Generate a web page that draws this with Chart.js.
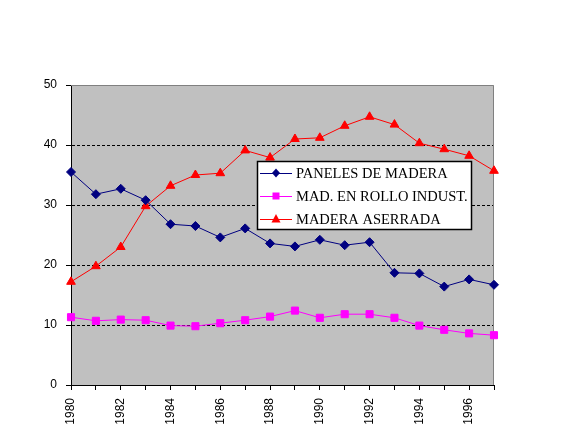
<!DOCTYPE html>
<html>
<head>
<meta charset="utf-8">
<script src="https://cdn.jsdelivr.net/npm/chart.js@4.4.0/dist/chart.umd.min.js"></script>
<style>
html,body{margin:0;padding:0;background:#fff;}
#wrap{width:568px;height:438px;position:relative;}
</style>
</head>
<body>
<div id="wrap"><canvas id="c" width="568" height="438"></canvas></div>
<script>
const years = ['1980','1981','1982','1983','1984','1985','1986','1987','1988','1989','1990','1991','1992','1993','1994','1995','1996','1997'];
const paneles = [35.5,31.8,32.7,30.8,26.8,26.5,24.6,26.1,23.6,23.1,24.2,23.3,23.8,18.7,18.6,16.4,17.6,16.7];
const rollo = [11.3,10.7,10.9,10.8,9.9,9.8,10.3,10.8,11.4,12.4,11.2,11.8,11.8,11.2,9.9,9.2,8.6,8.3];
const aserrada = [17.2,19.8,23.0,29.8,33.2,35.0,35.3,39.1,37.9,41.0,41.2,43.2,44.7,43.4,40.3,39.3,38.2,35.7];
const seriesNames = ['PANELES DE MADERA','MAD. EN ROLLO INDUST.','MADERA ASERRADA'];
const yTicks = [0,10,20,30,40,50];

const NAVY = '#000080', MAG = '#ff00ff', RED = '#ff0000';

function drawMarker(ctx, style, x, y, color){
  ctx.save();
  ctx.fillStyle = color;
  ctx.beginPath();
  if (style === 'rectRot'){
    ctx.moveTo(x, y-4.5); ctx.lineTo(x+4, y); ctx.lineTo(x, y+4.5); ctx.lineTo(x-4, y);
  } else if (style === 'rect'){
    ctx.rect(x-3.5, y-3.5, 7, 7);
  } else {
    ctx.moveTo(x, y-5); ctx.lineTo(x+4.5, y+3.5); ctx.lineTo(x-4.5, y+3.5);
  }
  ctx.closePath();
  ctx.fill();
  ctx.restore();
}

const bgPlugin = {
  id: 'bg',
  beforeDraw(chart){
    const {ctx, chartArea:a} = chart;
    ctx.save();
    ctx.fillStyle = '#c0c0c0';
    ctx.fillRect(a.left, a.top, a.right-a.left, a.bottom-a.top);
    ctx.restore();
  },
  beforeDatasetsDraw(chart){
    const {ctx, chartArea:a} = chart;
    ctx.save();
    ctx.strokeStyle = '#808080';
    ctx.lineWidth = 1;
    ctx.beginPath();
    ctx.moveTo(a.left, a.top+0.5); ctx.lineTo(a.right-0.5, a.top+0.5); ctx.lineTo(a.right-0.5, a.bottom);
    ctx.stroke();
    ctx.restore();
  },
  afterDraw(chart){
    const ctx = chart.ctx;
    const bx = 257, by = 161, bw = 215, bh = 69;
    ctx.save();
    ctx.fillStyle = '#fff';
    ctx.fillRect(bx, by, bw, bh);
    ctx.strokeStyle = '#000';
    ctx.lineWidth = 1.5;
    ctx.strokeRect(bx+0.5, by+0.5, bw-1, bh-1);
    const rows = [173, 196, 219];
    chart.data.datasets.forEach((ds, i) => {
      const y = rows[i];
      ctx.strokeStyle = ds.borderColor;
      ctx.lineWidth = 1;
      ctx.beginPath(); ctx.moveTo(260, y+0.5); ctx.lineTo(292, y+0.5); ctx.stroke();
      drawMarker(ctx, ds.pointStyle, 276, y, ds.borderColor);
      ctx.fillStyle = '#000';
      ctx.font = '14.5px "Liberation Serif", "Times New Roman", serif';
      ctx.textBaseline = 'middle';
      ctx.textAlign = 'left';
      ctx.fillText(ds.label, 296, y+1);
    });
    ctx.restore();
  }
};

new Chart(document.getElementById('c'), {
  type: 'line',
  data: {
    labels: years,
    datasets: [
      {label: seriesNames[0], data: paneles, borderColor: NAVY, backgroundColor: NAVY, pointStyle: 'rectRot', pointRadius: 4.5, borderWidth: 1, clip: false},
      {label: seriesNames[1], data: rollo, borderColor: MAG, backgroundColor: MAG, pointStyle: 'rect', pointRadius: 5, borderWidth: 1, clip: false},
      {label: seriesNames[2], data: aserrada, borderColor: RED, backgroundColor: RED, pointStyle: 'triangle', pointRadius: 5, borderWidth: 1, clip: false}
    ]
  },
  options: {
    responsive: false,
    animation: false,
    devicePixelRatio: 1,
    layout: {padding: {left: 0, top: 85, right: 74, bottom: 0}},
    elements: {line: {tension: 0}, point: {borderWidth: 0, hoverRadius: 5}},
    plugins: {legend: {display: false}, tooltip: {enabled: false}},
    scales: {
      x: {
        type: 'category',
        offset: false,
        afterFit(s){ s.height = 53; },
        grid: {drawOnChartArea: false, tickLength: 5, color: '#000', offset: false},
        border: {color: '#000', width: 1},
        ticks: {
          autoSkip: false, maxRotation: 90, minRotation: 90, padding: 8,
          color: '#000', font: {family: '"Liberation Sans", Arial, sans-serif', size: 12},
          callback(v, i){ return i % 2 === 0 ? years[i] : ''; }
        }
      },
      y: {
        min: 0, max: 50,
        afterFit(s){ s.width = 71; },
        afterBuildTicks(s){ s.ticks = yTicks.map(v => ({value: v})); },
        grid: {
          tickLength: 5,
          color: (c) => (c.tick && (c.tick.value === 0 || c.tick.value === 50)) ? 'rgba(0,0,0,0)' : '#000',
          tickColor: '#000',
          tickBorderDash: [1,0]
        },
        border: {color: '#000', width: 1, dash: [3,2]},
        ticks: {
          padding: 9, color: '#000',
          font: {family: '"Liberation Sans", Arial, sans-serif', size: 12}
        }
      }
    }
  },
  plugins: [bgPlugin]
});
</script>
</body>
</html>
